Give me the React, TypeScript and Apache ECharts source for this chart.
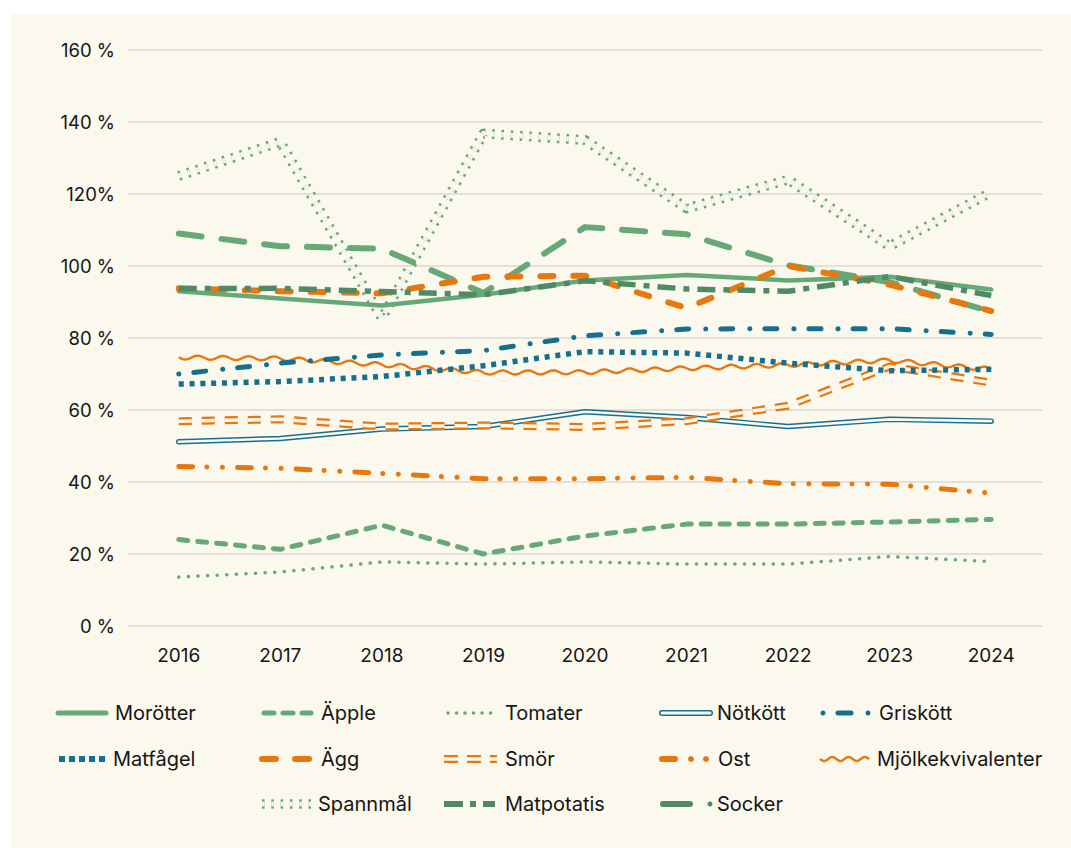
import React, { useEffect, useRef } from "react";
import * as echarts from "echarts";

// ---------- data ----------
const years = ["2016", "2017", "2018", "2019", "2020", "2021", "2022", "2023", "2024"];
const yTickLabels = ["0 %", "20 %", "40 %", "60 %", "80 %", "100 %", "120%", "140 %", "160 %"];

const morotter = [93, 91, 89, 92, 96, 97.5, 96, 97, 93.5];
const apple = [24, 21.3, 28, 20, 25, 28.3, 28.3, 28.9, 29.6];
const tomater = [13.6, 15, 17.8, 17.2, 17.8, 17.2, 17.2, 19.3, 17.9];
const notkott = [51.2, 52.1, 54.7, 55.4, 59.5, 57.9, 55.4, 57.4, 56.9];
const griskott = [70, 73, 75.3, 76.5, 80.6, 82.5, 82.6, 82.6, 81];
const matfagel = [67.2, 67.9, 69.3, 72.3, 76.2, 75.8, 73, 70.9, 71.3];
const agg = [93.8, 93, 92.4, 97, 97.3, 88.3, 100, 94.8, 87.5];
const smor = [56.9, 57.4, 55.4, 55.7, 55.3, 56.9, 61.2, 72.1, 67.6];
const ost = [44.3, 43.8, 42.4, 40.9, 40.9, 41.3, 39.5, 39.4, 36.9];
const mjolk = [74.6, 74.3, 72.6, 70.4, 70.5, 71.6, 72.5, 73.8, 71.3];
const spannmal = [125, 134.5, 85.5, 136.8, 135, 116, 124, 105.5, 120.5];
const matpotatis = [93.7, 93.8, 92.9, 92, 95.9, 93.6, 93, 97.1, 91.8];
const socker = [109, 105.5, 104.8, 92.5, 110.8, 108.8, 100.2, 95.5, 87.3];

// ---------- styles ----------
const GREEN = "#67A877";
const DARK_GREEN = "#4F8A65";
const ORANGE = "#E8770E";
const BLUE = "#14708E";
const BG = "#FBF8EE";
const TEXT = "#151515";
const FONT = "Inter, 'Noto Sans', sans-serif";
const OX = 11;
const OY = 14;

function lineSeries(name: string, data: number[], color: string, width: number, type: any, cap: string, z: number) {
  return {
    name,
    type: "line",
    data,
    symbol: "none",
    silent: true,
    z,
    lineStyle: { color, width, type, cap, join: "round" },
    emphasis: { disabled: true },
  };
}

function wavePoints(x0: number, y0: number, x1: number, y1: number, period: number, amp: number) {
  const dx = x1 - x0;
  const dy = y1 - y0;
  const len = Math.hypot(dx, dy) || 1;
  const n = Math.max(1, Math.round(len / period));
  const nx = -dy / len;
  const ny = dx / len;
  const steps = n * 16;
  const pts: number[][] = [];
  for (let k = 0; k <= steps; k++) {
    const t = k / steps;
    const o = amp * Math.sin(2 * Math.PI * n * t);
    pts.push([x0 + dx * t + nx * o, y0 + dy * t + ny * o]);
  }
  return pts;
}

const mjolkSegments = mjolk.slice(0, -1).map((v, i) => [i, v, i + 1, mjolk[i + 1]]);

// ---------- legend (page coordinates) ----------
function legendGraphics() {
  const g: any[] = [];
  const P = (x: number) => x - OX;
  const Q = (y: number) => y - OY;
  const r1 = 713, r2 = 759, r3 = 804;
  const seg = (x1: number, x2: number, y: number, stroke: string, lineWidth: number, lineDash: any, lineCap: string) =>
    g.push({ type: "line", silent: true, shape: { x1: P(x1), y1: Q(y), x2: P(x2), y2: Q(y) }, style: { stroke, lineWidth, lineDash, lineCap } });
  const dot = (cx: number, cy: number, r: number, fill: string) =>
    g.push({ type: "circle", silent: true, shape: { cx: P(cx), cy: Q(cy), r }, style: { fill } });
  const label = (x: number, y: number, text: string) =>
    g.push({
      type: "text",
      silent: true,
      x: P(x),
      y: Q(y),
      style: { text, fill: TEXT, fontSize: 20, fontFamily: FONT, verticalAlign: "middle", textVerticalAlign: "middle" },
    });

  // row 1
  seg(58, 106, r1, GREEN, 5, null, "round");
  label(115, r1, "Morötter");
  seg(264, 311, r1, GREEN, 5, [10, 9], "round");
  label(321, r1, "Äpple");
  seg(448, 491, r1, GREEN, 3.5, [0.1, 8.4], "round");
  label(505, r1, "Tomater");
  seg(662, 710, r1, BLUE, 6, null, "round");
  seg(662, 710, r1, BG, 3, null, "round");
  label(717, r1, "Nötkött");
  dot(823, r1, 2.5, BLUE);
  seg(838, 851, r1, BLUE, 5, null, "round");
  dot(868, r1, 2.5, BLUE);
  label(879, r1, "Griskött");

  // row 2
  seg(59, 105, r2, BLUE, 6, [6, 4], "butt");
  label(113, r2, "Matfågel");
  seg(262, 309, r2, ORANGE, 6, [14, 19], "round");
  label(321, r2, "Ägg");
  seg(444, 497, r2, ORANGE, 8, [14, 9], "butt");
  seg(444, 497, r2, BG, 3.5, [14, 9], "butt");
  label(505, r2, "Smör");
  seg(662, 675, r2, ORANGE, 6, null, "round");
  dot(691, r2, 3, ORANGE);
  dot(706, r2, 3, ORANGE);
  label(718, r2, "Ost");
  g.push({
    type: "polyline",
    silent: true,
    shape: { points: wavePoints(P(820), Q(r2), P(869), Q(r2), 16, 2) },
    style: { stroke: ORANGE, lineWidth: 2.4, fill: null },
  });
  label(877, r2, "Mjölkekvivalenter");

  // row 3
  seg(262, 313, r3, GREEN, 9.5, [2.5, 6.8], "butt");
  seg(262, 313, r3, BG, 4.5, [2.5, 6.8], "butt");
  label(318, r3, "Spannmål");
  seg(444, 495, r3, DARK_GREEN, 6, [19, 7, 6, 7], "butt");
  label(505, r3, "Matpotatis");
  seg(663, 690, r3, DARK_GREEN, 6, null, "round");
  dot(710, r3, 2.5, DARK_GREEN);
  label(717, r3, "Socker");
  return g;
}

export default function App() {
  const ref = useRef<HTMLDivElement>(null);

  useEffect(() => {
    if (!ref.current) return;
    const chart = echarts.init(ref.current, null, { renderer: "svg" });

    const option: any = {
      animation: false,
      backgroundColor: BG,
      textStyle: { fontFamily: FONT },
      grid: { left: 117, right: 29, top: 36, bottom: 222, containLabel: false },
      xAxis: {
        type: "category",
        data: years,
        boundaryGap: true,
        axisLine: { show: false },
        axisTick: { show: false },
        axisLabel: { color: TEXT, fontSize: 19, fontFamily: FONT, margin: 20 },
      },
      yAxis: {
        type: "value",
        min: 0,
        max: 160,
        interval: 20,
        axisLine: { show: false },
        axisTick: { show: false },
        axisLabel: {
          color: TEXT,
          fontSize: 18.5,
          fontFamily: FONT,
          margin: 13,
          formatter: (v: number) => yTickLabels[Math.round(v / 20)],
        },
        splitLine: { lineStyle: { color: "#DBD8D2", width: 1.5 } },
      },
      series: [
        lineSeries("Spannmål", spannmal, GREEN, 10, [2.5, 6.8], "butt", 2),
        lineSeries("Spannmål ", spannmal, BG, 5, [2.5, 6.8], "butt", 2),
        lineSeries("Nötkött", notkott, BLUE, 5.5, "solid", "round", 2),
        lineSeries("Nötkött ", notkott, BG, 2.6, "solid", "round", 2),
        lineSeries("Smör", smor, ORANGE, 8, [13, 10], "butt", 2),
        lineSeries("Smör ", smor, BG, 3.5, [13, 10], "butt", 2),
        lineSeries("Tomater", tomater, GREEN, 3.5, [0.1, 9.5], "round", 2),
        lineSeries("Äpple", apple, GREEN, 5, [9, 10], "round", 2),
        lineSeries("Socker", socker, GREEN, 6, [23, 20], "round", 2),
        lineSeries("Morötter", morotter, GREEN, 4.5, "solid", "round", 2),
        lineSeries("Ägg", agg, ORANGE, 6, [13, 20], "round", 2),
        lineSeries("Matpotatis", matpotatis, DARK_GREEN, 5.5, [18, 8, 6, 8], "butt", 2),
        lineSeries("Ost", ost, ORANGE, 5, [14, 14, 0.1, 15.5, 0.1, 15], "round", 2),
        {
          name: "Mjölkekvivalenter",
          type: "custom",
          coordinateSystem: "cartesian2d",
          silent: true,
          z: 2,
          data: mjolkSegments,
          encode: { x: [0, 2], y: [1, 3] },
          renderItem: (_params: any, api: any) => {
            const p0 = api.coord([api.value(0), api.value(1)]);
            const p1 = api.coord([api.value(2), api.value(3)]);
            return {
              type: "polyline",
              shape: { points: wavePoints(p0[0], p0[1], p1[0], p1[1], 23, 2) },
              style: { stroke: ORANGE, lineWidth: 2.4, fill: null },
            };
          },
        },
        lineSeries("Matfågel", matfagel, BLUE, 5.5, [5, 5.8], "butt", 2),
        lineSeries("Griskött", griskott, BLUE, 5, [0.1, 15, 12, 17], "round", 2),
      ],
      graphic: legendGraphics(),
    };

    chart.setOption(option);
    return () => chart.dispose();
  }, []);

  return (
    <div
      ref={ref}
      style={{ position: "absolute", left: OX, top: OY, width: 1060, height: 834, background: BG }}
    />
  );
}
